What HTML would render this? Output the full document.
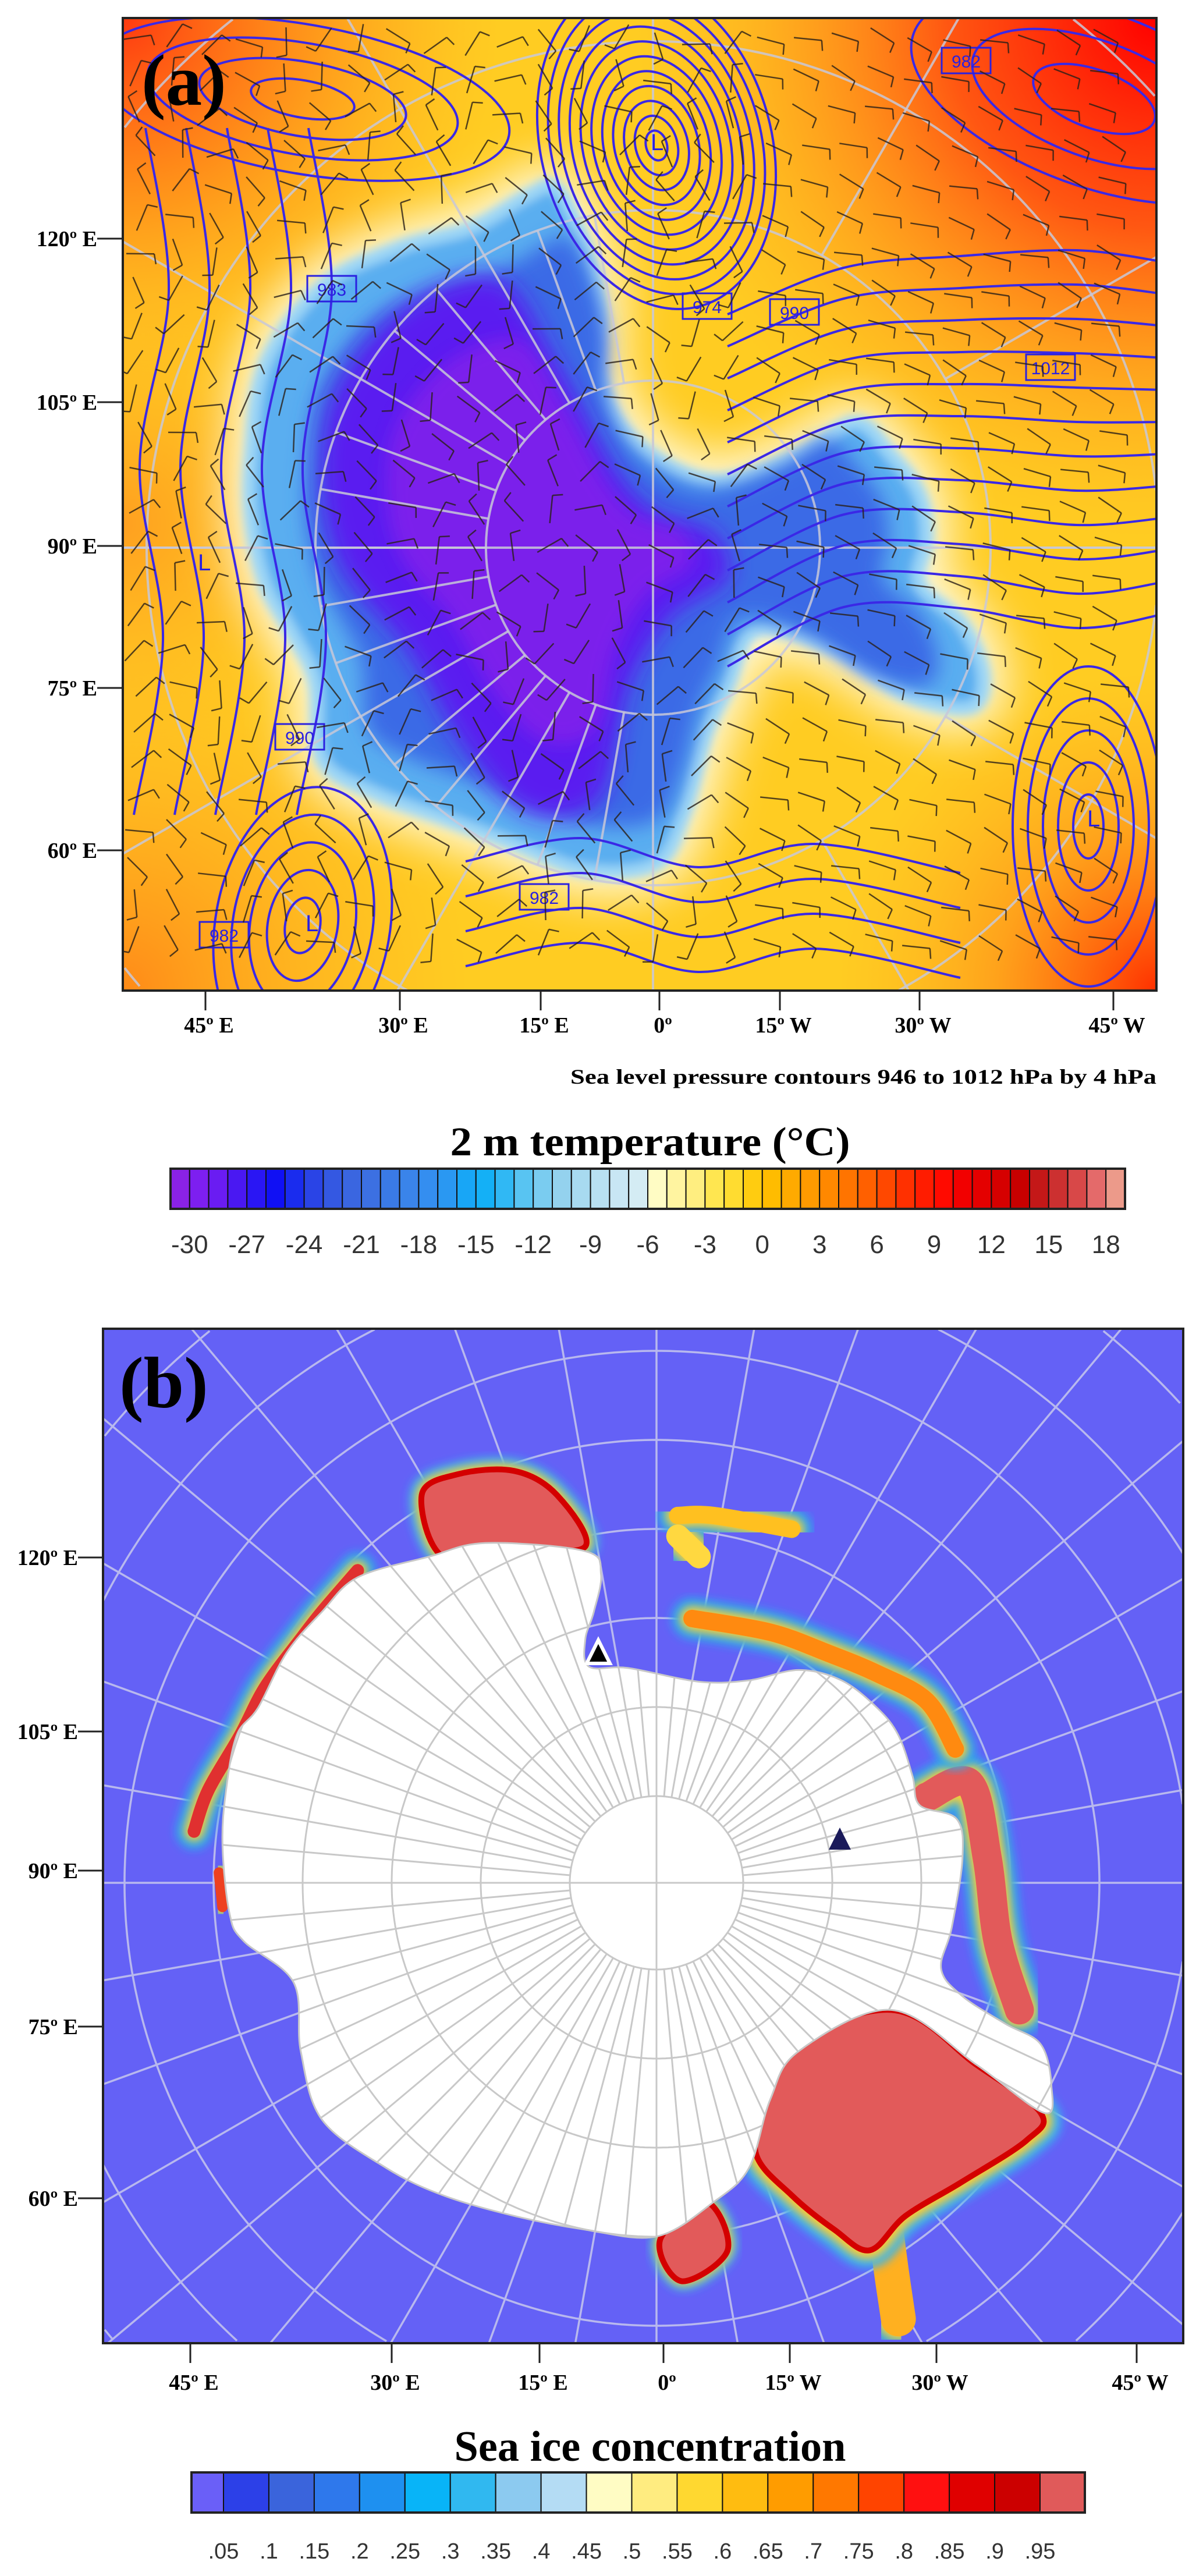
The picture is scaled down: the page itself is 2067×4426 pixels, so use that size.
<!DOCTYPE html>
<html><head><meta charset="utf-8">
<style>
html,body{margin:0;padding:0;background:#fff;width:2067px;height:4426px;overflow:hidden;}
svg{display:block;}
.lab{font-family:"Liberation Serif",serif;font-weight:bold;fill:#000;}
.cbl{font-family:"Liberation Sans",sans-serif;fill:#333;}
</style></head>
<body>
<svg id="fig" width="2067" height="4426" viewBox="0 0 2067 4426" xmlns="http://www.w3.org/2000/svg" style="overflow:hidden">
<defs>
  <clipPath id="clipA"><rect x="211" y="31" width="1776" height="1671"/></clipPath>
  <clipPath id="clipB"><rect x="177" y="2283" width="1856" height="1743"/></clipPath>
  <filter id="blur8" x="-20%" y="-20%" width="140%" height="140%"><feGaussianBlur stdDeviation="8"/></filter>
  <filter id="blur20" x="-30%" y="-30%" width="160%" height="160%"><feGaussianBlur stdDeviation="20"/></filter>
  <filter id="blur40" x="-30%" y="-30%" width="160%" height="160%"><feGaussianBlur stdDeviation="40"/></filter>
  <radialGradient id="gTL" cx="211" cy="31" r="650" gradientUnits="userSpaceOnUse"><stop offset="0" stop-color="#ff3a10"/><stop offset="0.5" stop-color="#ff8a18" stop-opacity="0.8"/><stop offset="1" stop-color="#ffb020" stop-opacity="0"/></radialGradient>
  <radialGradient id="gTR" cx="1987" cy="31" r="900" gradientUnits="userSpaceOnUse"><stop offset="0" stop-color="#ff0000"/><stop offset="0.4" stop-color="#ff4a10" stop-opacity="0.9"/><stop offset="1" stop-color="#ffb020" stop-opacity="0"/></radialGradient>
  <radialGradient id="gBR" cx="1987" cy="1702" r="550" gradientUnits="userSpaceOnUse"><stop offset="0" stop-color="#ff3000"/><stop offset="0.5" stop-color="#ff9018" stop-opacity="0.7"/><stop offset="1" stop-color="#ffb020" stop-opacity="0"/></radialGradient>
  <radialGradient id="gBL" cx="211" cy="1702" r="600" gradientUnits="userSpaceOnUse"><stop offset="0" stop-color="#ff8a18"/><stop offset="1" stop-color="#ffb020" stop-opacity="0"/></radialGradient>
  <radialGradient id="gL" cx="211" cy="900" r="400" gradientUnits="userSpaceOnUse"><stop offset="0" stop-color="#ffa020"/><stop offset="1" stop-color="#ffb020" stop-opacity="0"/></radialGradient>
</defs>

<g id="panelA">
  <g clip-path="url(#clipA)">
    <rect x="211" y="31" width="1776" height="1671" fill="#ffcc22"/>
    <rect x="211" y="31" width="1776" height="1671" fill="url(#gL)"/>
    <rect x="211" y="31" width="1776" height="1671" fill="url(#gBL)"/>
    <rect x="211" y="31" width="1776" height="1671" fill="url(#gTL)"/>
    <rect x="211" y="31" width="1776" height="1671" fill="url(#gTR)"/>
    <rect x="211" y="31" width="1776" height="1671" fill="url(#gBR)"/>
    <g id="aLand"></g>
    <g id="aGrat"></g>
    <g id="aCont"></g>
    <g id="aBarb"></g>
  </g>
  <rect x="211" y="31" width="1776" height="1671" fill="none" stroke="#222" stroke-width="4"/>
  <text class="lab" x="243" y="180" font-size="125">(a)</text>
  <g id="aAxes"></g>
  <text class="lab" x="1987" y="1862" font-size="36" text-anchor="end" textLength="1007" lengthAdjust="spacingAndGlyphs">Sea level pressure contours 946 to 1012 hPa by 4 hPa</text>
</g>

<text class="lab" x="1117" y="1985" font-size="70" text-anchor="middle" textLength="687" lengthAdjust="spacingAndGlyphs">2 m temperature (°C)</text>
<g id="cbA"></g>

<g id="panelB">
  <g clip-path="url(#clipB)">
    <rect x="177" y="2283" width="1856" height="1743" fill="#6461f6"/>
    <g id="bGratOcean"></g>
    <g id="bIce"></g>
    <g id="bLand"></g>
    <g id="bMarks"></g>
  </g>
  <rect x="177" y="2283" width="1856" height="1743" fill="none" stroke="#222" stroke-width="4"/>
  <text class="lab" x="205" y="2418" font-size="125">(b)</text>
  <g id="bAxes"></g>
</g>

<text class="lab" x="1117" y="4228" font-size="74" text-anchor="middle" textLength="673" lengthAdjust="spacingAndGlyphs">Sea ice concentration</text>
<g id="cbB"></g>
</svg>

<script>
const lonLabels = ["45º E","30º E","15º E","0º","15º W","30º W","45º W"];
const latLabels = ["120º E","105º E","90º E","75º E","60º E"];
const tempTickLabels = ["-30","-27","-24","-21","-18","-15","-12","-9","-6","-3","0","3","6","9","12","15","18"];
const tempColors = ["#8a22e6","#7d1ff0","#6a1cf2","#4a18f2","#2a16f4","#1010f4","#1a2cee","#2a44e6","#3458e2","#3a66e0",
  "#3c70e2","#3a7ae6","#3a84ea","#348ef0","#2a98f2","#18a6f6","#14b0f6","#30b8f4","#58c4f2","#7accf0",
  "#94d2ee","#a8daf0","#b8e0f2","#c8e6f4","#d4ecf4","#fffcc4","#fff4a0","#ffee80","#ffe650","#ffdc30",
  "#ffcc10","#ffbc00","#ffaa00","#ff9a00","#ff8800","#ff7400","#ff6000","#ff4800","#ff3000","#ff1c00",
  "#ff0a00","#f20000","#e40000","#d60000","#c80000","#c41818","#cc3030","#d84848","#e46a6a","#ec9a8a"];
const iceTickLabels = [".05",".1",".15",".2",".25",".3",".35",".4",".45",".5",".55",".6",".65",".7",".75",".8",".85",".9",".95"];
const iceColors = ["#6a5ff8","#2c40e8","#3a64dc","#2e78ec","#1e90f0","#08b4f8","#30b8f0","#8ccaf0","#b4dcf4","#fffcc4",
  "#ffec80","#ffd830","#ffbc10","#ff9c00","#ff7800","#ff4400","#ff1010","#e00000","#cc0000","#e05a5a"];
const isobarLabels = ["982","974","990","1012","982","990","982","983"];

const NS="http://www.w3.org/2000/svg";
function el(tag, attrs, parent){const e=document.createElementNS(NS,tag);for(const k in attrs)e.setAttribute(k,attrs[k]);parent.appendChild(e);return e;}
function $(id){return document.getElementById(id);}

// clipped geometry helpers (keep all geometry inside a rect)
function clipLine(x1,y1,x2,y2,R){
  let t0=0,t1=1; const dx=x2-x1, dy=y2-y1;
  const p=[-dx,dx,-dy,dy], q=[x1-R.x0,R.x1-x1,y1-R.y0,R.y1-y1];
  for(let i=0;i<4;i++){
    if(p[i]===0){ if(q[i]<0) return null; }
    else { const r=q[i]/p[i]; if(p[i]<0){ if(r>t1) return null; if(r>t0) t0=r; } else { if(r<t0) return null; if(r<t1) t1=r; } }
  }
  return [x1+t0*dx,y1+t0*dy,x1+t1*dx,y1+t1*dy];
}
function clippedCircle(g,cx,cy,r,R,attrs){
  let segs=[], cur=[];
  for(let i=0;i<=720;i++){
    const t=i/720*2*Math.PI, x=cx+r*Math.cos(t), y=cy+r*Math.sin(t);
    if(x>=R.x0&&x<=R.x1&&y>=R.y0&&y<=R.y1){cur.push(x.toFixed(1)+','+y.toFixed(1));}
    else if(cur.length){segs.push(cur);cur=[];}
  }
  if(cur.length) segs.push(cur);
  segs.forEach(s=>{ if(s.length>1){ const p=el('polyline',Object.assign({points:s.join(' '),fill:'none'},attrs),g);
    
     } });
}
function clippedLine(g,x1,y1,x2,y2,R,attrs){
  const c=clipLine(x1,y1,x2,y2,R); if(!c) return;
  const l=el('line',Object.assign({x1:c[0],y1:c[1],x2:c[2],y2:c[3]},attrs),g);
  
  
}
const RA={x0:211,y0:31,x1:1987,y1:1702};
const RB={x0:177,y0:2283,x1:2033,y1:4026};

function drawAxes(gid, frameL, frameB, xTicks, yTicks, labelRight, baseOff){
  const g=$(gid);
  xTicks.forEach((x,i)=>{
    const t=el('line',{x1:x,y1:frameB,x2:x,y2:frameB+34,stroke:'#222','stroke-width':3},g);
    
    
    const tx=el('text',{x:x+6,y:frameB+baseOff,'font-size':38,'text-anchor':'middle',class:'lab'},g);
    tx.textContent=lonLabels[i];
    
    
  });
  yTicks.forEach((y,i)=>{
    const t=el('line',{x1:labelRight,y1:y,x2:frameL,y2:y,stroke:'#222','stroke-width':3},g);
    
    
    const tx=el('text',{x:labelRight,y:y+13,'font-size':38,'text-anchor':'end',class:'lab'},g);
    tx.textContent=latLabels[i];
    
    
  });
}
drawAxes('aAxes',211,1702,[353,687,929,1133,1340,1580,1913],[410,691,938,1182,1461],167,72);
drawAxes('bAxes',177,4026,[327,673,927,1140,1357,1609,1953],[2676,2975,3214,3482,3777],134,80);

(function(){
  const g=$('cbA'); const x0=293,w=(1933-293)/tempColors.length;
  tempColors.forEach((c,i)=>{
    const r=el('rect',{x:x0+i*w,y:2008,width:w,height:69,fill:c,stroke:'#111','stroke-width':2},g);
    
    
  });
  el('rect',{x:x0,y:2008,width:1640,height:69,fill:'none',stroke:'#222','stroke-width':4},g);
  tempTickLabels.forEach((s,i)=>{
    const t=el('text',{x:x0+w*(1+3*i),y:2153,'font-size':44,'text-anchor':'middle',class:'cbl'},g);
    t.textContent=s;
    
    
  });
})();
(function(){
  const g=$('cbB'); const x0=329,first=55,w=(1787-384)/18;
  iceColors.forEach((c,i)=>{
    const x = i===0 ? x0 : 384+(i-1)*w;
    const ww = i===0 ? first : w;
    const r=el('rect',{x:x,y:4248,width:ww,height:69,fill:c,stroke:'#111','stroke-width':2},g);
    
    
  });
  el('rect',{x:x0,y:4248,width:1864-329,height:69,fill:'none',stroke:'#222','stroke-width':4},g);
  iceTickLabels.forEach((s,i)=>{
    const t=el('text',{x:384+i*w,y:4396,'font-size':38,'text-anchor':'middle',class:'cbl'},g);
    t.textContent=s;
    
    
  });
})();

function pA(pts){return pts.map(p=>[150+p[0]/0.818, p[1]/0.896]);}
function pB(pts){return pts.map(p=>[150+p[0]/0.818, 2250+p[1]/0.8476]);}
function smoothPath(pts,closed){
  const n=pts.length; let d='M'+pts[0][0].toFixed(1)+','+pts[0][1].toFixed(1);
  const N = closed? n : n-1;
  for(let i=0;i<N;i++){
    const p0=pts[(i-1+n)%n], p1=pts[i], p2=pts[(i+1)%n], p3=pts[(i+2)%n];
    const a0 = (!closed && i===0)? p1 : p0;
    const a3 = (!closed && i+2>=n)? p2 : p3;
    const c1=[p1[0]+(p2[0]-a0[0])/6, p1[1]+(p2[1]-a0[1])/6];
    const c2=[p2[0]-(a3[0]-p1[0])/6, p2[1]-(a3[1]-p1[1])/6];
    d+=' C'+c1[0].toFixed(1)+','+c1[1].toFixed(1)+' '+c2[0].toFixed(1)+','+c2[1].toFixed(1)+' '+p2[0].toFixed(1)+','+p2[1].toFixed(1);
  }
  return d+(closed?' Z':'');
}

(function(){
  const g=$('aLand');
  const outer=pA([[230,700],[250,560],[330,440],[440,380],[540,350],[620,300],[660,290],[700,380],[720,470],[720,580],[770,680],[880,740],[1000,700],[1080,650],[1130,700],[1170,760],[1180,830],[1170,900],[1230,960],[1260,1040],[1240,1090],[1150,1070],[1050,1000],[940,970],[900,1060],[870,1130],[840,1250],[800,1330],[700,1340],[600,1300],[500,1260],[400,1220],[330,1170],[320,1050],[290,980],[250,900],[230,800]]);
  const core=pA([[350,600],[450,470],[580,430],[660,560],[740,720],[800,790],[880,820],[900,890],[820,950],[760,1060],[720,1230],[620,1250],[530,1150],[450,1000],[360,880],[330,750]]);
  const halo=el('path',{d:smoothPath(outer,true),fill:'#fffbe0',stroke:'#fffbe0','stroke-width':80,filter:'url(#blur40)'},g);
  
  
  const o=el('path',{d:smoothPath(outer,true),fill:'#5aaef0',stroke:'#9cd6f6','stroke-width':24,filter:'url(#blur8)'},g);
  
  
  const mid=el('path',{d:smoothPath(outer,true),fill:'#3a6ae6',transform:'translate(1122 941) scale(0.86) translate(-1122 -941)',filter:'url(#blur20)'},g);
  
  
  const c=el('path',{d:smoothPath(core,true),fill:'#5a1cf0',filter:'url(#blur20)'},g);
  
  
  el('path',{d:smoothPath(core,true),fill:'#8a22ea',opacity:0.7,transform:'translate(1000 900) scale(0.75) translate(-1000 -900)',filter:'url(#blur20)'},g);
})();

(function(){
  const g=$('aGrat'), cx=1122, cy=941;
  const st={stroke:'#c8c8d8','stroke-width':4,opacity:0.85};
  [287,580,870,1160].forEach(r=>clippedCircle(g,cx,cy,r,RA,st));
  for(let a=90;a<=270;a+=10){
    const t=a*Math.PI/180;
    clippedLine(g,cx+287*Math.cos(t),cy+287*Math.sin(t),cx+580*Math.cos(t),cy+580*Math.sin(t),RA,st);
  }
  for(let a=0;a<360;a+=30){
    const t=a*Math.PI/180;
    clippedLine(g,cx+580*Math.cos(t),cy+580*Math.sin(t),cx+1600*Math.cos(t),cy+1600*Math.sin(t),RA,st);
  }
  clippedLine(g,211,cy,1987,cy,RA,st);
  clippedLine(g,cx,cy-287,cx,cy+287,RA,st);
})();

(function(){
  const g=$('aCont'); const st={fill:'none',stroke:'#3a28e6','stroke-width':4};
  function ell(cx,cy,rx,ry,rot){const e=el('ellipse',Object.assign({cx:cx,cy:cy,rx:rx,ry:ry,transform:'rotate('+rot+' '+cx+' '+cy+')'},st),g);
    
    }
  for(let k=1;k<=11;k++) ell(1128,250,18*k,26*k,-15);
  for(let k=1;k<=5;k++) ell(520,1590,30*k,48*k,10);
  for(let k=1;k<=5;k++) ell(1870,1420,26*k,55*k,0);
  for(let k=1;k<=4;k++) ell(520,170,90*k,32*k,10);
  for(let k=1;k<=3;k++) ell(1880,170,110*k,50*k,20);
  for(let k=0;k<12;k++){
    const y0=420+k*55;
    const pts=[[1250,y0+120],[1450,y0+40-k*2],[1650,y0+20],[1850,y0+10+k*4],[2000,y0+30]];
    const p=el('path',Object.assign({d:smoothPath(pts,false)},st),g);
    
    
  }
  for(let k=0;k<5;k++){
    const x0=250+k*70;
    const pts=[[x0,220],[x0+40,500],[x0-10,800],[x0+30,1100],[x0-20,1400]];
    el('path',Object.assign({d:smoothPath(pts,false)},st),g);
  }
  for(let k=0;k<4;k++){
    const y0=1480+k*60;
    const pts=[[800,y0],[1000,y0-40],[1200,y0+10],[1400,y0-30],[1650,y0+20]];
    el('path',Object.assign({d:smoothPath(pts,false)},st),g);
  }
  const boxPos=[[1660,108],[1215,530],[1365,540],[1805,635],[935,1545],[515,1270],[385,1610],[570,500]];
  boxPos.forEach((p,i)=>{
    const b=el('rect',{x:p[0]-42,y:p[1]-26,width:84,height:44,fill:'none',stroke:'#2a20e0','stroke-width':3},g);
    
    
    const t=el('text',{x:p[0],y:p[1]+8,'font-size':30,'text-anchor':'middle','font-family':'Liberation Sans, sans-serif',fill:'#2a20e0'},g);
    t.textContent=isobarLabels[i];
    
    
  });
  [[1118,258],[525,1600],[1868,1420],[340,980]].forEach(p=>{
    const t=el('text',{x:p[0],y:p[1],'font-size':40,'font-family':'Liberation Sans, sans-serif',fill:'#2a20e0'},g);
    t.textContent='L';
    
    
  });
})();

(function(){
  const g=$('aBarb');
  for(let y=70;y<1680;y+=62){
    for(let x=240;x<1960;x+=64){
      let a=Math.sin(x*0.013+y*0.007)*1.6+Math.cos(y*0.011)*0.8;
      if(x>1300) a=0.35+Math.sin(x*0.02+y*0.03)*0.25;
      const L=48, dx=L*Math.cos(a), dy=L*Math.sin(a);
      const ox=x+((y*7)%23)-11, oy=y+((x*5)%19)-9;
      el('line',{x1:ox-dx/2,y1:oy-dy/2,x2:ox+dx/2,y2:oy+dy/2,stroke:'#2a2018','stroke-width':2.5,opacity:0.8},g);
      const bx=ox+dx/2, by=oy+dy/2, b=a+1.4;
      el('line',{x1:bx,y1:by,x2:bx+18*Math.cos(b),y2:by+18*Math.sin(b),stroke:'#2a2018','stroke-width':2.5,opacity:0.8},g);
    }
  }
})();

const bcx=1128, bcy=3235;
(function(){
  const g=$('bGratOcean');
  const st={stroke:'#b8b8ee','stroke-width':3.5};
  for(let r=149+153;r<1400;r+=153) clippedCircle(g,bcx,bcy,r,RB,st);
  for(let a=0;a<360;a+=10){
    const t=a*Math.PI/180;
    clippedLine(g,bcx+300*Math.cos(t),bcy+300*Math.sin(t),bcx+1700*Math.cos(t),bcy+1700*Math.sin(t),RB,st);
  }
})();

function icePatch(g, pts, opts){
  const d=smoothPath(pB(pts),true);
  const h=el('path',{d:d,fill:'#1ea0f0',stroke:'#30b4f4','stroke-width':opts.halo||50,filter:'url(#blur8)'},g);
  
  
  el('path',{d:d,fill:'#ffd840',stroke:'#ffcc30','stroke-width':(opts.halo||50)*0.5,filter:'url(#blur8)'},g);
  const c=el('path',{d:d,fill:'#e25a5a',stroke:'#d40000','stroke-width':10},g);
  
  
}
function iceStrip(g, pts, w, core){
  const d=smoothPath(pB(pts),false);
  el('path',{d:d,fill:'none',stroke:'#28a8f2','stroke-width':w+40,'stroke-linecap':'round',filter:'url(#blur8)'},g);
  el('path',{d:d,fill:'none',stroke:'#ffd030','stroke-width':w+12,'stroke-linecap':'round',filter:'url(#blur8)'},g);
  const s=el('path',{d:d,fill:'none',stroke:core,'stroke-width':w,'stroke-linecap':'round'},g);
  
  
}
(function(){
  const g=$('bIce');
  icePatch(g,[[470,270],[520,240],[600,235],[660,270],[700,345],[600,350],[500,360]],{halo:40});
  iceStrip(g,[[380,380],[330,440],[300,480],[250,550],[215,620],[170,700],[150,760]],22,'#e03030');
  iceStrip(g,[[185,820],[190,870]],18,'#ee4020');
  iceStrip(g,[[1180,710],[1240,690],[1265,800],[1280,920],[1310,1020]],50,'#e25a5a');
  iceStrip(g,[[830,300],[880,300],[990,320]],30,'#ffc020');
  iceStrip(g,[[850,450],[960,470],[1040,500],[1110,530],[1180,570],[1220,640]],30,'#ff8a10');
  iceStrip(g,[[830,330],[860,360]],40,'#ffd840');
  iceStrip(g,[[1120,1320],[1130,1400],[1140,1470]],60,'#ffb020');
  icePatch(g,[[960,1080],[1130,1020],[1250,1100],[1340,1170],[1320,1210],[1230,1270],[1150,1320],[1100,1370],[1050,1340],[990,1290],[940,1230],[950,1150]],{halo:60});
  icePatch(g,[[805,1355],[870,1300],[900,1370],[835,1415]],{halo:30});
})();
(function(){
  const g=$('bLand');
  const coast=pB([[480,360],[560,340],[700,352],[722,385],[712,440],[700,480],[705,520],[760,522],[860,542],[930,540],[1000,525],[1060,540],[1110,580],[1140,620],[1160,680],[1170,722],[1222,742],[1230,800],[1215,900],[1200,960],[1230,1000],[1290,1040],[1340,1070],[1355,1130],[1345,1170],[1250,1100],[1130,1020],[1000,1080],[960,1150],[930,1250],[880,1300],[800,1350],[700,1340],[600,1320],[500,1290],[420,1250],[330,1180],[300,1080],[290,980],[220,920],[200,880],[190,780],[195,700],[210,620],[240,580],[280,500],[330,440],[380,390]]);
  const land=el('path',{d:smoothPath(coast,true),fill:'#ffffff',stroke:'#c8c8c8','stroke-width':3},g);
  
  
  const clip=el('clipPath',{id:'landClip'},g);
  el('path',{d:smoothPath(coast,true)},clip);
  const lg=el('g',{'clip-path':'url(#landClip)'},g);
  const RL={x0:300,y0:2450,x1:1950,y1:3920};
  const st={stroke:'#c8c8c8','stroke-width':3};
  for(let r=149;r<800;r+=153) clippedCircle(lg,bcx,bcy,r,RL,st);
  for(let a=0;a<360;a+=5){
    const t=a*Math.PI/180;
    clippedLine(lg,bcx+149*Math.cos(t),bcy+149*Math.sin(t),bcx+1000*Math.cos(t),bcy+1000*Math.sin(t),RL,st);
  }
  clippedLine(lg,bcx-149,bcy,bcx+149,bcy,RL,st);
  clippedLine(lg,bcx,bcy-149,bcx,bcy+149,RL,st);
})();
(function(){
  const g=$('bMarks');
  const t1=el('polygon',{points:'1028,2818 1008,2858 1048,2858',fill:'#000',stroke:'#fff','stroke-width':6},g);
  
  
  const t2=el('polygon',{points:'1443,3140 1424,3178 1462,3178',fill:'#1a1a5a'},g);
  
  
})();
</script>
</body></html>
